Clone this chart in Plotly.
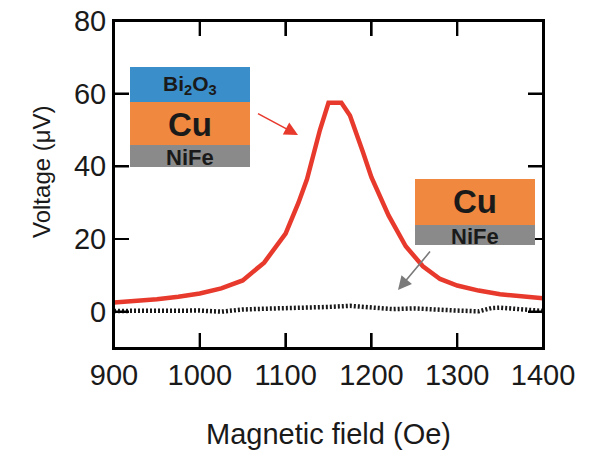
import plotly.graph_objects as go

# Data
field_red = [900, 925, 950, 975, 1000, 1025, 1050, 1075, 1100, 1115, 1125, 1140, 1150,
             1165, 1175, 1190, 1200, 1220, 1240, 1260, 1280, 1300, 1325, 1350, 1375, 1400]
volt_red = [2.5, 2.9, 3.4, 4.1, 5.0, 6.4, 8.6, 13.5, 21.5, 30.0, 36.5, 50.0, 57.5,
            57.5, 54.0, 44.0, 37.0, 26.5, 18.0, 12.5, 9.0, 7.2, 5.8, 4.8, 4.2, 3.7]

field_blk = [900, 925, 950, 975, 1000, 1025, 1050, 1075, 1100, 1125, 1150, 1175, 1200,
             1225, 1250, 1275, 1300, 1325, 1340, 1350, 1375, 1400]
volt_blk = [0.2, 0.3, 0.1, 0.5, 0.3, 0.0, 0.6, 0.8, 0.9, 1.1, 1.3, 1.6, 1.3,
            0.7, 0.9, 0.5, 0.3, 0.1, 1.0, 1.1, 0.5, 0.2]

x_ticks = [900, 1000, 1100, 1200, 1300, 1400]
y_ticks = [0, 20, 40, 60, 80]
x_range = [900, 1400]
y_range = [-10, 80]

FONT = "Liberation Sans, Arial, sans-serif"
W, H = 595, 453
L, R, T, B = 114, 543, 21, 348
TICKLEN = 15  # px
TICKW = 2     # px
PW, PH = R - L, B - T


def px(x):
    return (x - L) / PW


def py(y):
    return (B - y) / PH


def fx(v):  # data value -> fraction of x axis
    return (v - x_range[0]) / (x_range[1] - x_range[0])


def fy(v):  # data value -> fraction of y axis
    return (v - y_range[0]) / (y_range[1] - y_range[0])


fig = go.Figure()
fig.add_trace(go.Scatter(x=field_blk, y=volt_blk, mode="lines",
                         line=dict(color="#1a1a1a", width=4.5, dash="2px,2px"),
                         showlegend=False))
fig.add_trace(go.Scatter(x=field_red, y=volt_red, mode="lines",
                         line=dict(color="#e8392d", width=4.5),
                         showlegend=False))

axis_common = dict(showline=True, linecolor="black", linewidth=2, mirror="allticks",
                   ticks="inside", ticklen=TICKLEN, tickwidth=2, tickcolor="black",
                   showgrid=False, zeroline=False, automargin=False,
                   ticklabeloverflow="allow",
                   tickfont=dict(family=FONT, size=29, color="#1a1a1a"))

fig.update_xaxes(range=x_range, tickvals=x_ticks, **axis_common)
fig.update_yaxes(range=y_range, tickvals=y_ticks, **axis_common)

shapes = []

# frame + inward ticks as one stroked path in paper coordinates (plot area = 0..1)
lx, ly = TICKLEN / PW, TICKLEN / PH
segs = ["M0,0 L1,0 L1,1 L0,1 Z"]
for v in x_ticks:
    f = fx(v)
    segs.append(f"M{f:.5f},0 L{f:.5f},{ly:.5f}")
    segs.append(f"M{f:.5f},1 L{f:.5f},{1 - ly:.5f}")
for v in y_ticks:
    f = fy(v)
    segs.append(f"M0,{f:.5f} L{lx:.5f},{f:.5f}")
    segs.append(f"M1,{f:.5f} L{1 - lx:.5f},{f:.5f}")
shapes.append(dict(type="path", xref="paper", yref="paper", path=" ".join(segs),
                   line=dict(color="black", width=2), layer="above"))


def rect(x0, y0, x1, y1, color):
    shapes.append(dict(type="rect", xref="paper", yref="paper",
                       x0=px(x0), x1=px(x1), y0=py(y1), y1=py(y0),
                       fillcolor=color, line=dict(width=0), layer="above"))


# tick bars as filled paper rectangles as well (same place as the path ticks)
for v in x_ticks:
    c = L + fx(v) * PW
    rect(c - TICKW / 2, B - TICKLEN, c + TICKW / 2, B, "black")
    rect(c - TICKW / 2, T, c + TICKW / 2, T + TICKLEN, "black")
for v in y_ticks:
    c = B - fy(v) * PH
    rect(L, c - TICKW / 2, L + TICKLEN, c + TICKW / 2, "black")
    rect(R - TICKLEN, c - TICKW / 2, R, c + TICKW / 2, "black")

# inset 1
rect(130, 67, 250, 102, "#3a8fca")
rect(130, 102, 250, 145, "#f0883f")
rect(130, 145, 250, 167, "#8a8a8a")
# inset 2
rect(415, 179, 535, 225, "#f0883f")
rect(415, 225, 535, 245, "#8a8a8a")

ann = []


def text(x, y, s, size, angle=0):
    ann.append(dict(x=px(x), y=py(y), xref="paper", yref="paper", text=s, showarrow=False,
                    font=dict(family=FONT, size=size, color="#1a1a1a"), textangle=angle,
                    xanchor="center", yanchor="middle"))


text(190, 85, "<b>Bi<sub>2</sub>O<sub>3</sub></b>", 21)
text(190, 124, "<b>Cu</b>", 33)
text(190, 157, "<b>NiFe</b>", 22)
text(475, 202, "<b>Cu</b>", 33)
text(475, 236, "<b>NiFe</b>", 22)

text(41, 172, "Voltage (μV)", 24, angle=-90)
text(328, 434, "Magnetic field (Oe)", 29)

ann.append(dict(x=px(298), y=py(135), xref="paper", yref="paper", ax=-43, ay=-23,
                showarrow=True, arrowhead=2, arrowsize=1.7, arrowwidth=1.6,
                arrowcolor="#e8392d", text=" "))
ann.append(dict(x=px(398), y=py(290), xref="paper", yref="paper", ax=35, ay=-42,
                showarrow=True, arrowhead=2, arrowsize=1.7, arrowwidth=1.6,
                arrowcolor="#7a7a7a", text=" "))

fig.update_layout(width=W, height=H, margin=dict(l=L, r=W - R, t=T, b=H - B),
                  paper_bgcolor="white", plot_bgcolor="white",
                  shapes=shapes, annotations=ann)

fig.write_html("out.html", config={"displayModeBar": False},
               post_script="document.body.style.margin='0';document.body.style.overflow='hidden';")
